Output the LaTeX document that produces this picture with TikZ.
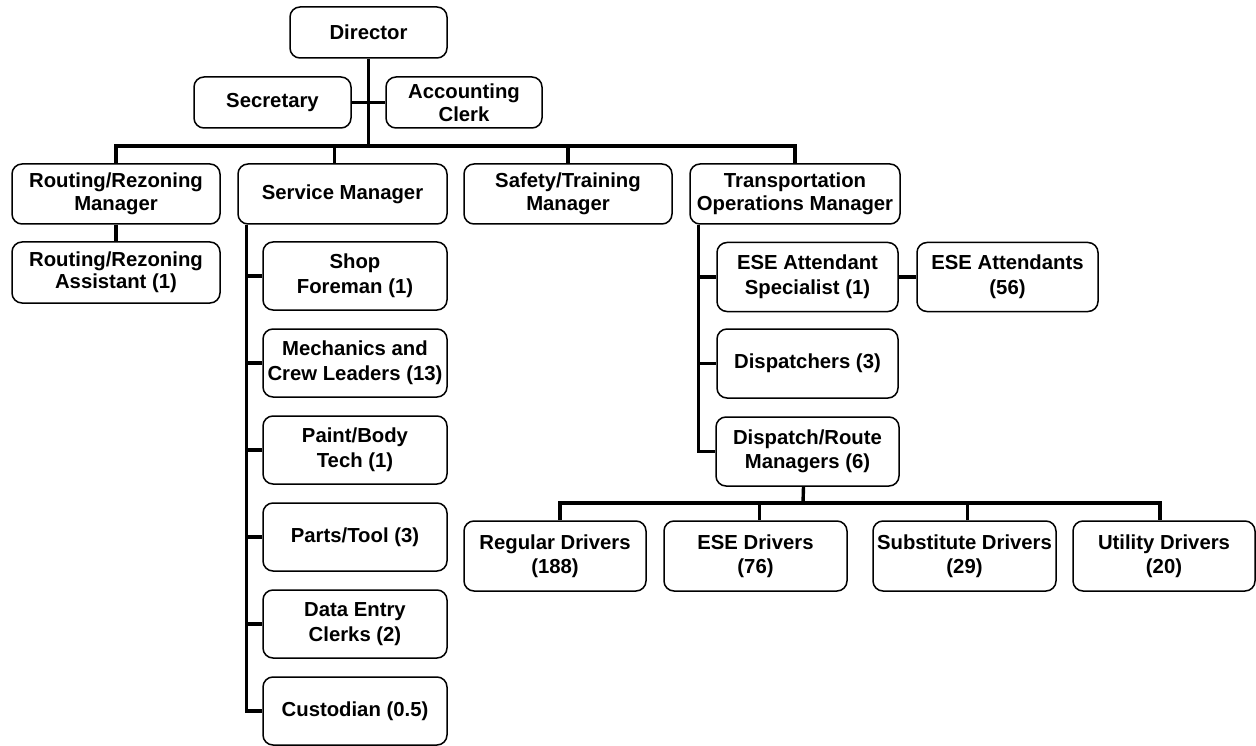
\documentclass[tikz,border=0pt]{standalone}
\usepackage{fontspec}
\setmainfont{Liberation Sans}
\begin{document}
\begin{tikzpicture}[x=1pt,y=-1pt,
  box/.style 2 args={draw, fill=white, rounded corners=10pt, line width=1.5pt,
    align=center, inner sep=0pt, minimum width=#1, minimum height=#2,
    font=\fontsize{20.3}{22.5}\selectfont\bfseries},
  loose/.style={font=\fontsize{20.3}{25}\selectfont\bfseries},
  mid/.style={font=\fontsize{20.3}{23.5}\selectfont\bfseries},
  link/.style={line width=3.4pt}]
\useasboundingbox (0,0) rectangle (1256,746);

% top level
\node[box={157pt}{51pt}] (dir) at (368.5,32.5) {Director};
\node[box={157pt}{51pt}] (sec) at (272.5,102.5) {Secretary};
\node[box={156pt}{51pt}] (acc) at (464,102.5) {Accounting\\Clerk};

% managers
\node[box={208pt}{60pt}] (rrm) at (116,194) {Routing/Rezoning\\Manager};
\node[box={209pt}{60pt}] (svc) at (342.5,194) {Service Manager};
\node[box={208pt}{60pt}] (saf) at (568,194) {Safety/Training\\Manager};
\node[box={210pt}{60pt}] (top) at (795,194) {Transportation\\Operations Manager};

\node[box={208pt}{61pt}] (rra) at (116,272.5) {Routing/Rezoning\\Assistant (1)};

% service staff
\node[box={184pt}{68pt},loose] (shop) at (355,276) {Shop\\Foreman (1)};
\node[box={184pt}{68pt},loose] (mech) at (355,363) {Mechanics and\\Crew Leaders (13)};
\node[box={184pt}{68pt},loose] (paint) at (355,450) {Paint/Body\\Tech (1)};
\node[box={184pt}{68pt},loose] (parts) at (355,537) {Parts/Tool (3)};
\node[box={184pt}{68pt},loose] (data) at (355,624) {Data Entry\\Clerks (2)};
\node[box={184pt}{68pt},loose] (cust) at (355,711) {Custodian (0.5)};

% transportation staff
\node[box={181pt}{69pt},loose] (esp) at (807.5,277) {ESE Attendant\\Specialist (1)};
\node[box={181pt}{69pt},loose] (esa) at (1007.5,277) {ESE Attendants\\(56)};
\node[box={181pt}{69pt},loose] (disp) at (807.5,363.5) {Dispatchers (3)};
\node[box={183pt}{69pt},mid] (drm) at (807.5,451.5) {Dispatch/Route\\Managers (6)};

% drivers
\node[box={182pt}{70pt},mid] (reg) at (555,556) {Regular Drivers\\(188)};
\node[box={183pt}{70pt},mid] (esed) at (755.5,556) {ESE Drivers\\(76)};
\node[box={183pt}{70pt},mid] (sub) at (964.5,556) {Substitute Drivers\\(29)};
\node[box={182pt}{70pt},mid] (util) at (1164,556) {Utility Drivers\\(20)};

% director to managers
\coordinate (bus) at (368.5,146);
\draw[link] (dir.south) -- (bus);
\draw[link] (sec.east) -- (acc.west);
\draw[link] (rrm.north) |- (bus) -| (top.north);
\draw[link] ([xshift=-8pt]svc.north) -- ([xshift=-8pt]svc.north |- bus);
\draw[link] (saf.north) -- (saf.north |- bus);
\draw[link] (rrm.south) -- (rra.north);

% service manager branch
\coordinate (sv) at ([xshift=9pt]svc.south west);
\draw[link] (sv) |- (cust.west);
\foreach \n in {shop,mech,paint,parts,data}
  \draw[link] (sv |- \n.west) -- (\n.west);

% transportation branch
\coordinate (tv) at ([xshift=9pt]top.south west);
\draw[link] (tv) |- (drm.west);
\foreach \n in {esp,disp}
  \draw[link] (tv |- \n.west) -- (\n.west);
\draw[link] (esp.east) -- (esa.west);

% drivers
\coordinate (dbus) at (803,503);
\draw[link] ([xshift=-4pt]drm.south) -- (dbus);
\draw[link] ([xshift=5pt]reg.north) |- (dbus) -| ([xshift=-4pt]util.north);
\draw[link] ([xshift=4pt]esed.north) -- ([xshift=4pt]esed.north |- dbus);
\draw[link] ([xshift=3pt]sub.north) -- ([xshift=3pt]sub.north |- dbus);
\end{tikzpicture}
\end{document}
